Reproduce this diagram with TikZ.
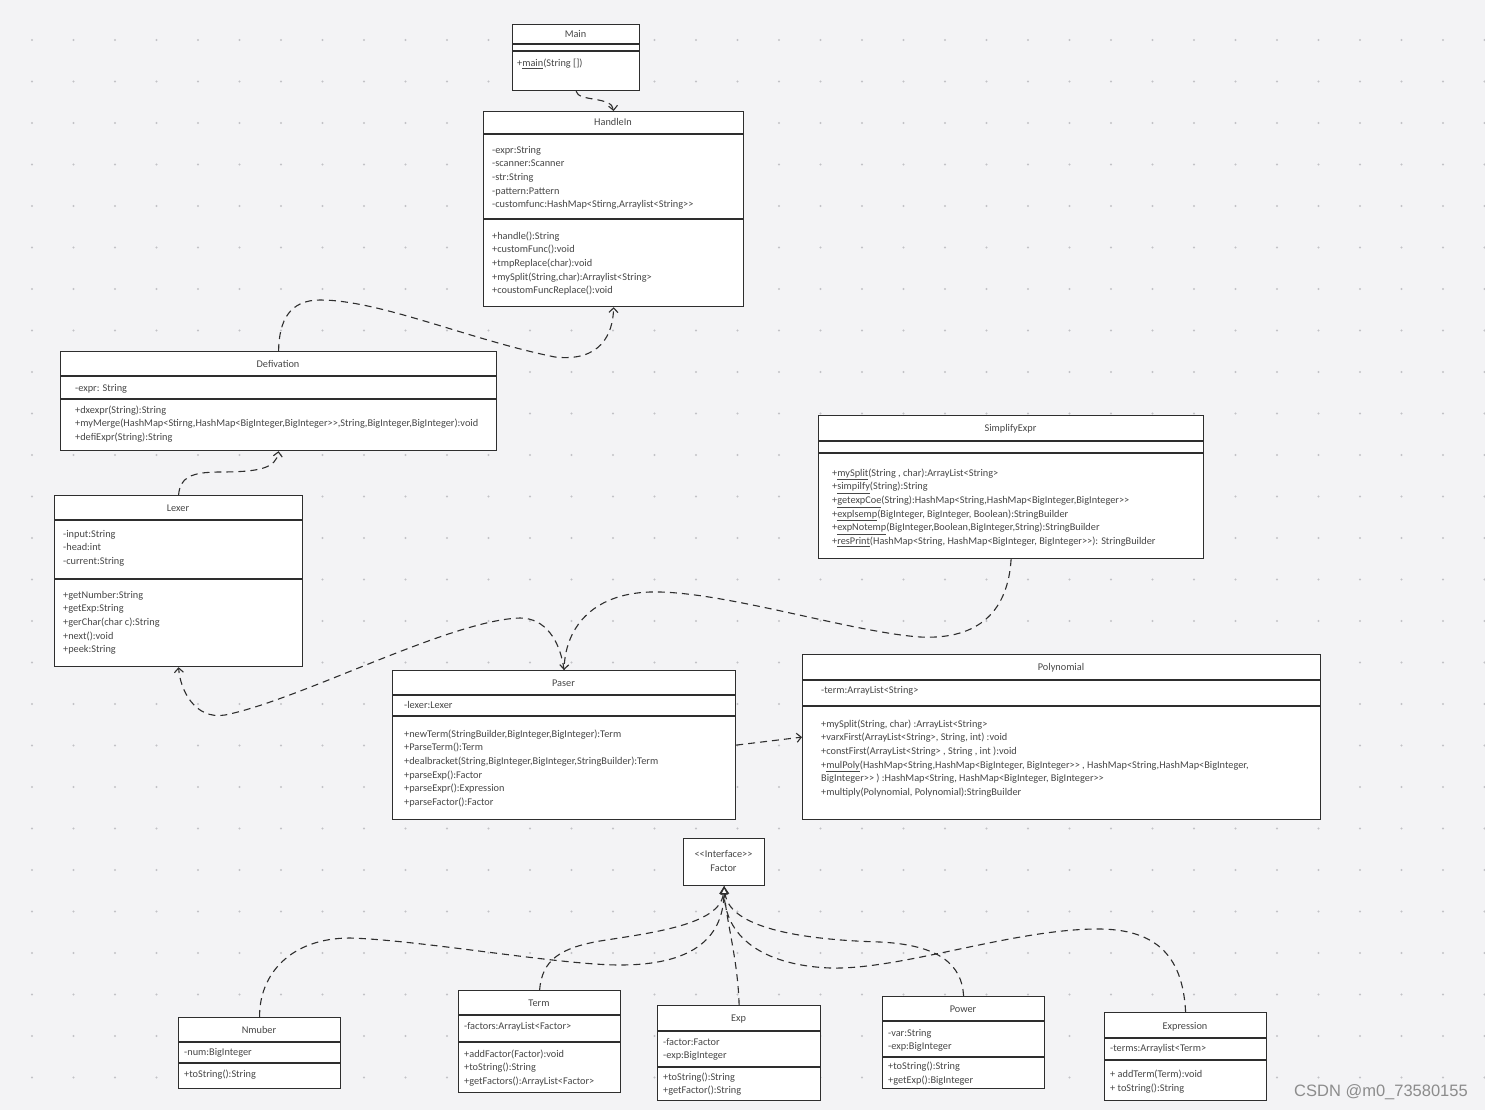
\documentclass[tikz,border=0pt]{standalone}
\usepackage{fontspec}
\setmainfont{Carlito}[Ligatures=TeXOff]
\newfontfamily\wmfont{Liberation Sans}
\usetikzlibrary{arrows.meta}
\definecolor{bg}{HTML}{F3F3F5}
\definecolor{dotc}{HTML}{C2C2C6}
\definecolor{linec}{HTML}{2E2E2E}
\definecolor{txtc}{HTML}{474747}
\newcommand{\umlrows}[5]{\foreach \t [count=\i] in {#5} {\node[txt] (#1\i) at ({#2},{#3+1+#4*(\i-1)}) {\t};}}
\begin{document}
\begin{tikzpicture}[x=1pt,y=-1pt,
  box/.style={draw=linec, fill=white, line width=1.2pt, inner sep=0pt, anchor=north west},
  txt/.style={anchor=mid west, inner sep=0pt, text=txtc, font=\fontsize{10.3}{12}\selectfont},
  ttl/.style={anchor=mid, inner sep=0pt, text=txtc, font=\fontsize{10.3}{12}\selectfont, yshift=-1pt},
  sepline/.style={draw=linec, line width=1.2pt},
  dep/.style={draw=linec, line width=1.1pt, dash pattern=on 7pt off 5pt, -{Straight Barb[length=4.5pt,width=9pt]}},
  real/.style={draw=linec, line width=1.1pt, dash pattern=on 7pt off 5pt, -{Triangle[fill=white,length=8pt,width=8pt]}}]
\useasboundingbox (0,0) rectangle (1485,1110);
\fill[bg] (0,0) rectangle (1485,1110);
\foreach \gx in {0,...,35} \foreach \gy in {0,...,25} \fill[dotc] ({32+41.5*\gx},{40+41.5*\gy}) circle (1.1);

% ---------- Main ----------
\node[box, minimum width=127pt, minimum height=66pt] (main) at (512,24) {};
\draw[sepline] (512,44) -- (639,44);
\draw[sepline] (512,51) -- (639,51);
\node[ttl] (mainT) at (575.5,34) {Main};
\node[txt] (mainM) at (517,64) {+\underline{main}(String [])};

% ---------- HandleIn ----------
\node[box, minimum width=260pt, minimum height=195pt] (handle) at (483,111) {};
\draw[sepline] (483,134) -- (743,134);
\draw[sepline] (483,219) -- (743,219);
\node[ttl] (handleT) at (613,122) {HandleIn};
\umlrows{hA}{492}{150}{13.6}{{-expr:String},{-scanner:Scanner},{-str:String},{-pattern:Pattern},{-customfunc:HashMap<Stirng,Arraylist<String>>}}
\umlrows{hM}{492}{236}{13.6}{{+handle():String},{+customFunc():void},{+tmpReplace(char):void},{+mySplit(String,char):Arraylist<String>},{+coustomFuncReplace():void}}

% ---------- Defivation ----------
\node[box, minimum width=436pt, minimum height=99pt] (defiv) at (60,351) {};
\draw[sepline] (60,376) -- (496,376);
\draw[sepline] (60,399) -- (496,399);
\node[ttl] (defivT) at (278,364) {Defivation};
\umlrows{dA}{75}{388}{13.6}{{-expr: String}}
\umlrows{dM}{75}{410}{13.6}{{+dxexpr(String):String},{+myMerge(HashMap<Stirng,HashMap<BigInteger,BigInteger>>,String,BigInteger,BigInteger):void},{+defiExpr(String):String}}

% ---------- Lexer ----------
\node[box, minimum width=248pt, minimum height=171pt] (lexer) at (54,495) {};
\draw[sepline] (54,520) -- (302,520);
\draw[sepline] (54,579) -- (302,579);
\node[ttl] (lexerT) at (178,508) {Lexer};
\umlrows{lA}{63}{534}{13.6}{{-input:String},{-head:int},{-current:String}}
\umlrows{lM}{63}{595}{13.6}{{+getNumber:String},{+getExp:String},{+gerChar(char c):String},{+next():void},{+peek:String}}

% ---------- SimplifyExpr ----------
\node[box, minimum width=385pt, minimum height=143pt] (simp) at (818,415) {};
\draw[sepline] (818,441) -- (1203,441);
\draw[sepline] (818,453) -- (1203,453);
\node[ttl] (simpT) at (1010.5,428) {SimplifyExpr};
\umlrows{sM}{832}{473}{13.6}{{+\underline{mySplit}(String , char):ArrayList<String>},{+\underline{simpilfy}(String):String},{+\underline{getexpCoe}(String):HashMap<String,HashMap<BigInteger,BigInteger>>},{+\underline{explsemp}(BigInteger, BigInteger, Boolean):StringBuilder},{+\underline{expNotemp}(BigInteger,Boolean,BigInteger,String):StringBuilder},{+\underline{resPrint}(HashMap<String, HashMap<BigInteger, BigInteger>>): StringBuilder}}

% ---------- Paser ----------
\node[box, minimum width=343pt, minimum height=149pt] (paser) at (392,670) {};
\draw[sepline] (392,695) -- (735,695);
\draw[sepline] (392,716) -- (735,716);
\node[ttl] (paserT) at (563.5,683) {Paser};
\umlrows{pA}{404}{705}{13.6}{{-lexer:Lexer}}
\umlrows{pM}{404}{734}{13.6}{{+newTerm(StringBuilder,BigInteger,BigInteger):Term},{+ParseTerm():Term},{+dealbracket(String,BigInteger,BigInteger,StringBuilder):Term},{+parseExp():Factor},{+parseExpr():Expression},{+parseFactor():Factor}}

% ---------- Polynomial ----------
\node[box, minimum width=518pt, minimum height=165pt] (poly) at (802,654) {};
\draw[sepline] (802,680) -- (1320,680);
\draw[sepline] (802,706) -- (1320,706);
\node[ttl] (polyT) at (1061,667) {Polynomial};
\umlrows{yA}{821}{690}{13.6}{{-term:ArrayList<String>}}
\umlrows{yM}{821}{724}{13.6}{{+mySplit(String, char) :ArrayList<String>},{+varxFirst(ArrayList<String>, String, int) :void},{+constFirst(ArrayList<String> , String , int ):void},{+\underline{mulPoly}(HashMap<String,HashMap<BigInteger, BigInteger>> , HashMap<String,HashMap<BigInteger,},{BigInteger>> ) :HashMap<String, HashMap<BigInteger, BigInteger>>},{+multiply(Polynomial, Polynomial):StringBuilder}}

% ---------- Factor ----------
\node[box, minimum width=81pt, minimum height=47pt] (factor) at (683,838) {};
\node[ttl] (factorS) at (723.5,854) {<<Interface>>};
\node[ttl] (factorT) at (723.5,868) {Factor};

% ---------- Nmuber ----------
\node[box, minimum width=162pt, minimum height=71pt] (numb) at (178,1017) {};
\draw[sepline] (178,1042) -- (340,1042);
\draw[sepline] (178,1063) -- (340,1063);
\node[ttl] (numbT) at (259,1030) {Nmuber};
\umlrows{nA}{184}{1052}{13.6}{{-num:BigInteger}}
\umlrows{nM}{184}{1074}{13.6}{{+toString():String}}

% ---------- Term ----------
\node[box, minimum width=162pt, minimum height=102pt] (term) at (458,990) {};
\draw[sepline] (458,1015) -- (620,1015);
\draw[sepline] (458,1042) -- (620,1042);
\node[ttl] (termT) at (539,1003) {Term};
\umlrows{tA}{464}{1026}{13.6}{{-factors:ArrayList<Factor>}}
\umlrows{tM}{464}{1054}{13.6}{{+addFactor(Factor):void},{+toString():String},{+getFactors():ArrayList<Factor>}}

% ---------- Exp ----------
\node[box, minimum width=163pt, minimum height=95pt] (exp) at (657,1005) {};
\draw[sepline] (657,1031) -- (820,1031);
\draw[sepline] (657,1067) -- (820,1067);
\node[ttl] (expT) at (738.5,1018) {Exp};
\umlrows{eA}{663}{1042}{13.6}{{-factor:Factor},{-exp:BigInteger}}
\umlrows{eM}{663}{1077}{13.3}{{+toString():String},{+getFactor():String}}

% ---------- Power ----------
\node[box, minimum width=162pt, minimum height=92pt] (power) at (882,996) {};
\draw[sepline] (882,1021) -- (1044,1021);
\draw[sepline] (882,1057) -- (1044,1057);
\node[ttl] (powerT) at (963,1009) {Power};
\umlrows{wA}{888}{1033}{13.6}{{-var:String},{-exp:BigInteger}}
\umlrows{wM}{888}{1066}{13.6}{{+toString():String},{+getExp():BigInteger}}

% ---------- Expression ----------
\node[box, minimum width=162pt, minimum height=88pt] (expr) at (1104,1012) {};
\draw[sepline] (1104,1038) -- (1266,1038);
\draw[sepline] (1104,1060) -- (1266,1060);
\node[ttl] (exprT) at (1185,1026) {Expression};
\umlrows{xA}{1110}{1048}{13.6}{{-terms:Arraylist<Term>}}
\umlrows{xM}{1110}{1074}{13.6}{{+ addTerm(Term):void},{+ toString():String}}

% ---------- dependencies ----------
\draw[dep] (main.south) .. controls (578,102) and (612,96) .. (handle.north);
\draw[dep] (defiv.north) .. controls (279,320) and (290,300) .. (320,300) .. controls (380,300) and (470,340) .. (555,357) .. controls (600,362) and (613,335) .. (handle.south);
\draw[dep] (lexer.north) .. controls (180,478) and (190,472) .. (220,472) .. controls (260,472) and (276,468) .. (defiv.south);
\draw[dep] (simp.south) .. controls (1008,610) and (980,640) .. (920,637) .. controls (850,632) and (720,590) .. (650,592) .. controls (590,594) and (565,630) .. (paser.north);
\draw[dep] (paser.north) .. controls (560,640) and (545,618) .. (520,618) .. controls (450,620) and (300,700) .. (225,715) .. controls (195,720) and (180,690) .. (lexer.south);
\draw[dep] (paser.east) -- (poly.west);

% ---------- realizations ----------
\draw[real] (numb.north) .. controls (259,975) and (290,938) .. (350,938) .. controls (420,940) and (560,965) .. (620,965) .. controls (690,965) and (723,940) .. (factor.south);
\draw[real] (term.north) .. controls (542,960) and (560,948) .. (600,941) .. controls (650,933) and (720,925) .. (factor.south);
\draw[real] (exp.north) .. controls (738,960) and (726,920) .. (factor.south);
\draw[real] (power.north) .. controls (962,965) and (940,945) .. (880,942) .. controls (810,940) and (730,930) .. (factor.south);
\draw[real] (expr.north) .. controls (1183,960) and (1160,928) .. (1095,929) .. controls (1010,930) and (900,970) .. (830,968) .. controls (760,965) and (725,935) .. (factor.south);

% ---------- watermark ----------
\node[anchor=west, inner sep=0pt, text=black!45, font=\wmfont\fontsize{16.5}{18}\selectfont] (wm) at (1294,1092) {CSDN @m0\_73580155};
\end{tikzpicture}
\end{document}
